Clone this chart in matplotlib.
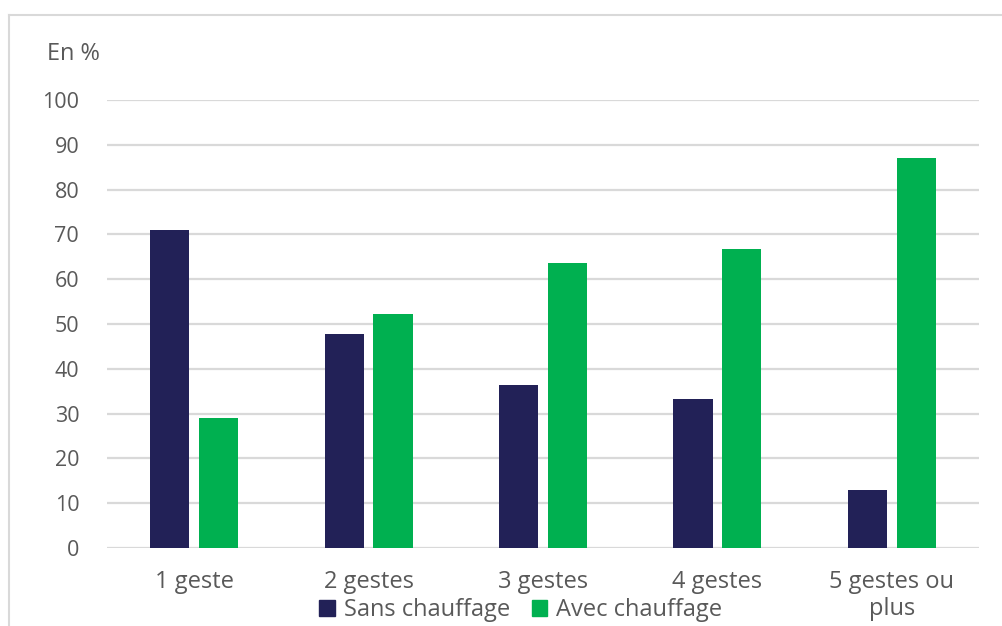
import matplotlib.pyplot as plt
import matplotlib.patches as mpatches
import numpy as np

categories = ['1 geste', '2 gestes', '3 gestes', '4 gestes', '5 gestes ou\nplus']
sans_chauffage = [71.0, 47.8, 36.4, 33.3, 13.0]
avec_chauffage = [29.0, 52.2, 63.6, 66.7, 87.0]
series_labels = ['Sans chauffage', 'Avec chauffage']

navy = '#222157'
green = '#00b050'
grey_txt = '#595959'
grid_col = '#d9d9d9'

plt.rcParams['font.family'] = ['Open Sans', 'DejaVu Sans']

fig = plt.figure(figsize=(10.03, 6.26), dpi=100)
ax = fig.add_axes([107 / 1003, 1 - 548 / 626, 872 / 1003, 448 / 626])

x = np.arange(len(categories))
w = 0.224
off = 0.14
ax.bar(x - off, sans_chauffage, w, color=navy, zorder=3)
ax.bar(x + off, avec_chauffage, w, color=green, zorder=3)

ax.set_xlim(-0.5, len(categories) - 0.5)
ax.set_ylim(0, 100)
ax.set_yticks(range(0, 101, 10))
ax.yaxis.grid(True, color=grid_col, linewidth=1.6, zorder=0)
ax.set_axisbelow(True)
for s in ax.spines.values():
    s.set_visible(False)
ax.tick_params(axis='both', length=0, colors=grey_txt)
ax.tick_params(axis='y', pad=20, labelsize=15.5)
ax.tick_params(axis='x', pad=16, labelsize=17)
ax.set_xticks(x)
ax.set_xticklabels(categories, linespacing=1.15)

fig.text(47 / 1003, 1 - 54 / 626, 'En %', fontsize=17, color=grey_txt, va='center')

handles = [mpatches.Patch(color=navy), mpatches.Patch(color=green)]
fig.legend(handles, series_labels, loc='center', bbox_to_anchor=(521 / 1003, 1 - 610 / 626),
           ncol=2, frameon=False, fontsize=17, labelcolor=grey_txt,
           handlelength=0.65, handleheight=0.65, handletextpad=0.4, columnspacing=0.9)

# light frame around the figure
fig.add_artist(plt.Line2D([9 / 1003, 1], [1 - 15 / 626] * 2, color='#d9d9d9', linewidth=1.5))
fig.add_artist(plt.Line2D([9 / 1003] * 2, [0, 1 - 15 / 626], color='#d9d9d9', linewidth=1.5))

fig.savefig('out.png', dpi=100)
